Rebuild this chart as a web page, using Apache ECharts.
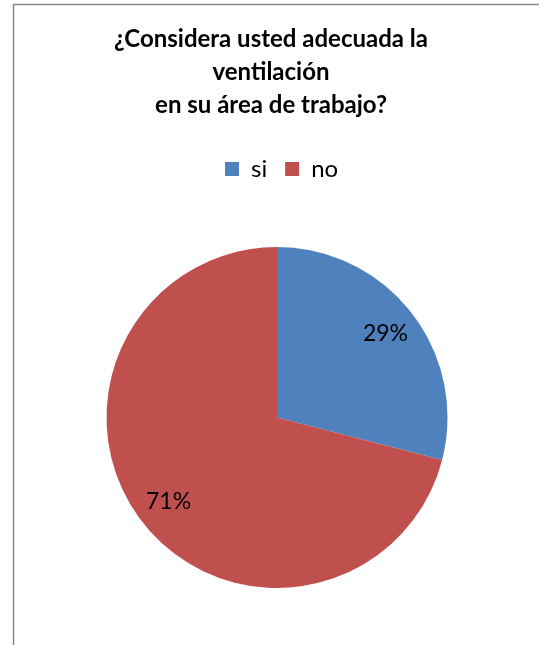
<!DOCTYPE html>
<html>
<head>
<meta charset="utf-8">
<script src="https://cdn.jsdelivr.net/npm/echarts@6/dist/echarts.min.js"></script>
<style>
  html, body { margin: 0; padding: 0; background: #fff; }
  #chart { width: 539px; height: 645px; }
</style>
</head>
<body>
<div id="chart"></div>
<script>
// Survey answers: share of respondents (percent)
const categories = ['si', 'no'];
const values = [29, 71];
const colors = ['#4F81BD', '#C0504D'];

const titleText = '¿Considera usted adecuada la\nventilación\nen su área de trabajo?';
const FONT = 'Lato, "Open Sans", sans-serif';

const pieData = categories.map((name, i) => ({
  name: name,
  value: values[i],
  itemStyle: { color: colors[i] }
}));

const chart = echarts.init(document.getElementById('chart'), null, { renderer: 'canvas' });

chart.setOption({
  animation: false,
  backgroundColor: '#ffffff',
  title: {
    text: titleText,
    left: 266,
    top: 18,
    textAlign: 'center',
    textStyle: {
      fontFamily: FONT,
      fontWeight: 'bold',
      fontSize: 24,
      lineHeight: 33,
      color: '#000'
    }
  },
  legend: {
    data: categories,
    left: 220,
    top: 152,
    itemWidth: 14,
    itemHeight: 14,
    itemGap: 18,
    icon: 'rect',
    textStyle: { fontFamily: FONT, fontSize: 24, color: '#000', padding: [0, 0, 0, 7] }
  },
  graphic: [
    { type: 'line', shape: { x1: 13.5, y1: 4, x2: 13.5, y2: 645 }, style: { stroke: '#888', lineWidth: 1.5 } },
    { type: 'line', shape: { x1: 13, y1: 4.5, x2: 539, y2: 4.5 }, style: { stroke: '#888', lineWidth: 1.5 } }
  ],
  series: [
    {
      type: 'pie',
      center: [277, 417.5],
      radius: [0, 170.5],
      startAngle: 90,
      clockwise: true,
      data: pieData,
      label: { show: false },
      labelLine: { show: false },
      silent: true
    },
    {
      // transparent ring that carries the percentage labels further out
      type: 'pie',
      center: [277, 417.5],
      radius: [98, 170.5],
      startAngle: 90,
      clockwise: true,
      data: pieData.map(d => ({ name: d.name, value: d.value })),
      itemStyle: { color: 'rgba(0,0,0,0)' },
      label: {
        show: true,
        position: 'inside',
        formatter: p => p.value + '%',
        fontFamily: FONT,
        fontSize: 23,
        color: '#000'
      },
      labelLine: { show: false },
      silent: true
    }
  ]
});
</script>
</body>
</html>
